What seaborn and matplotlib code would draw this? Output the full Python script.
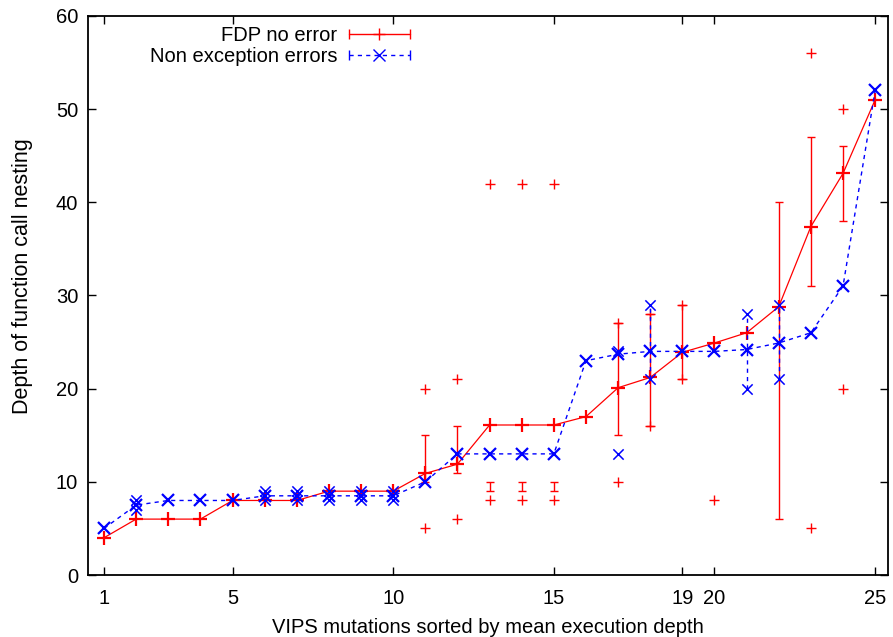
import matplotlib
matplotlib.use("Agg")
import matplotlib.pyplot as plt
import seaborn as sns
import numpy as np
from matplotlib.lines import Line2D
from matplotlib.legend_handler import HandlerBase

# mutations 1..25, sorted by mean execution depth
mutation = list(range(1, 26))

# FDP no error: mean line, error bars, single runs
fdp_mean = [4, 6, 6, 6, 8, 8, 8, 9, 9, 9, 10.9, 11.9, 16.1, 16.1, 16.1, 17,
            20.1, 21.2, 23.9, 24.9, 26, 28.8, 37.4, 43.1, 51]
fdp_bar_x = [11, 12, 13, 14, 15, 17, 18, 19, 22, 23, 24]
fdp_bar_lo = [10, 11, 9, 9, 9, 15, 16, 21, 6, 31, 38]
fdp_bar_hi = [15, 16, 10, 10, 10, 27, 28, 29, 40, 47, 46]
fdp_pts_x = [11, 11, 12, 12, 13, 13, 14, 14, 15, 15, 17, 17, 18, 18, 19, 19, 20, 23, 23, 24, 24]
fdp_pts_y = [20, 5, 21, 6, 42, 8, 42, 8, 42, 8, 10, 27, 28, 16, 29, 21, 8, 56, 5, 50, 20]

# Non exception errors
nee_mean = [5, 7.5, 8, 8, 8, 8.5, 8.5, 8.5, 8.5, 8.5, 10, 13, 13, 13, 13, 23,
            23.7, 24, 24, 24, 24.2, 24.9, 26, 31, 52]
nee_bar_x = [18, 21, 22]
nee_bar_lo = [21, 20, 21]
nee_bar_hi = [29, 28, 29]
nee_pts_x = [2, 2, 6, 6, 7, 7, 8, 8, 9, 9, 10, 10, 17, 17, 18, 18, 21, 21, 22, 22]
nee_pts_y = [7, 8, 8, 9, 8, 9, 8, 9, 8, 9, 8, 9, 24, 13, 29, 21, 28, 20, 29, 21]

xticks = [1, 5, 10, 15, 19, 20, 25]
yticks = [0, 10, 20, 30, 40, 50, 60]

RED = "#ff0000"
BLUE = "#0000ff"
FS = 14.5

sns.set_style("ticks")
plt.rcParams["font.family"] = ["Liberation Sans", "DejaVu Sans"]
for k in ("text.color", "axes.labelcolor", "xtick.color", "ytick.color", "axes.edgecolor"):
    plt.rcParams[k] = "black"


class HandlerErrLine(HandlerBase):
    # gnuplot style key sample: line with end caps and a point in the middle
    def __init__(self, color, ls, marker, **kw):
        super().__init__(**kw)
        self.color, self.ls, self.marker = color, ls, marker

    def create_artists(self, legend, orig_handle, xdescent, ydescent,
                       width, height, fontsize, trans):
        y = height / 2 - ydescent
        x0, x1 = -xdescent, width - xdescent
        line = Line2D([x0, x1], [y, y], color=self.color, lw=1, ls=self.ls)
        caps = Line2D([x0, x1], [y, y], ls="none", marker="|", ms=7,
                      mew=1, color=self.color)
        mid = Line2D([(x0 + x1) / 2], [y], ls="none", marker=self.marker,
                     ms=8, mew=1, color=self.color)
        for a in (line, caps, mid):
            a.set_transform(trans)
        return [line, caps, mid]


fig, ax = plt.subplots(figsize=(8.93, 6.37), dpi=100)
fig.subplots_adjust(left=0.0985, right=0.9944, bottom=0.0973, top=0.975)

# FDP no error
fdp_lo = np.array(fdp_bar_lo, dtype=float)
fdp_hi = np.array(fdp_bar_hi, dtype=float)
ax.errorbar(fdp_bar_x, (fdp_lo + fdp_hi) / 2, yerr=(fdp_hi - fdp_lo) / 2,
            fmt="none", ecolor=RED, elinewidth=1, capsize=3, capthick=1, zorder=2)
sns.lineplot(x=mutation, y=fdp_mean, ax=ax, color=RED, lw=0.9, marker="+",
             markersize=10, markeredgewidth=1.6, markeredgecolor=RED, zorder=3)
sns.scatterplot(x=fdp_pts_x, y=fdp_pts_y, ax=ax, color=RED, marker="+",
                s=60, linewidth=1, zorder=3)

# Non exception errors
nee_lo = np.array(nee_bar_lo, dtype=float)
nee_hi = np.array(nee_bar_hi, dtype=float)
eb = ax.errorbar(nee_bar_x, (nee_lo + nee_hi) / 2, yerr=(nee_hi - nee_lo) / 2,
                 fmt="none", ecolor=BLUE, elinewidth=1, capsize=0, zorder=4)
eb[2][0].set_linestyle((0, (3, 3)))
sns.lineplot(x=mutation, y=nee_mean, ax=ax, color=BLUE, lw=1, marker="x",
             markersize=9, markeredgewidth=1.6, markeredgecolor=BLUE, zorder=4)
ax.lines[-1].set_linestyle((0, (3, 3)))
sns.scatterplot(x=nee_pts_x, y=nee_pts_y, ax=ax, color=BLUE, marker="x",
                s=55, linewidth=1.1, zorder=4)

ax.set_xlim(0.5, 25.4)
ax.set_ylim(0, 60)
ax.set_xticks(xticks)
ax.set_yticks(yticks)
ax.tick_params(direction="in", top=True, right=True, length=6, width=1,
               labelsize=FS, colors="black")
ax.tick_params(axis="x", pad=10)
ax.tick_params(axis="y", pad=7)
for s in ax.spines.values():
    s.set_visible(True)
    s.set_linewidth(1.3)
    s.set_color("black")

ax.set_xlabel("VIPS mutations sorted by mean execution depth", fontsize=FS, labelpad=7)
ax.set_ylabel("Depth of function call nesting", fontsize=15.5)
ax.yaxis.set_label_coords(-0.069, 0.535)

h1 = Line2D([], [], color=RED)
h2 = Line2D([], [], color=BLUE)
ax.legend([h1, h2], ["FDP no error", "Non exception errors"],
          handler_map={h1: HandlerErrLine(RED, "-", "+"),
                       h2: HandlerErrLine(BLUE, (0, (3, 3)), "x")},
          loc="upper right", bbox_to_anchor=(0.402, 0.982), markerfirst=False,
          frameon=False, handlelength=3.0, handletextpad=0.6,
          labelspacing=0.12, borderpad=0, borderaxespad=0, fontsize=FS)

fig.savefig("out.png", dpi=100)
